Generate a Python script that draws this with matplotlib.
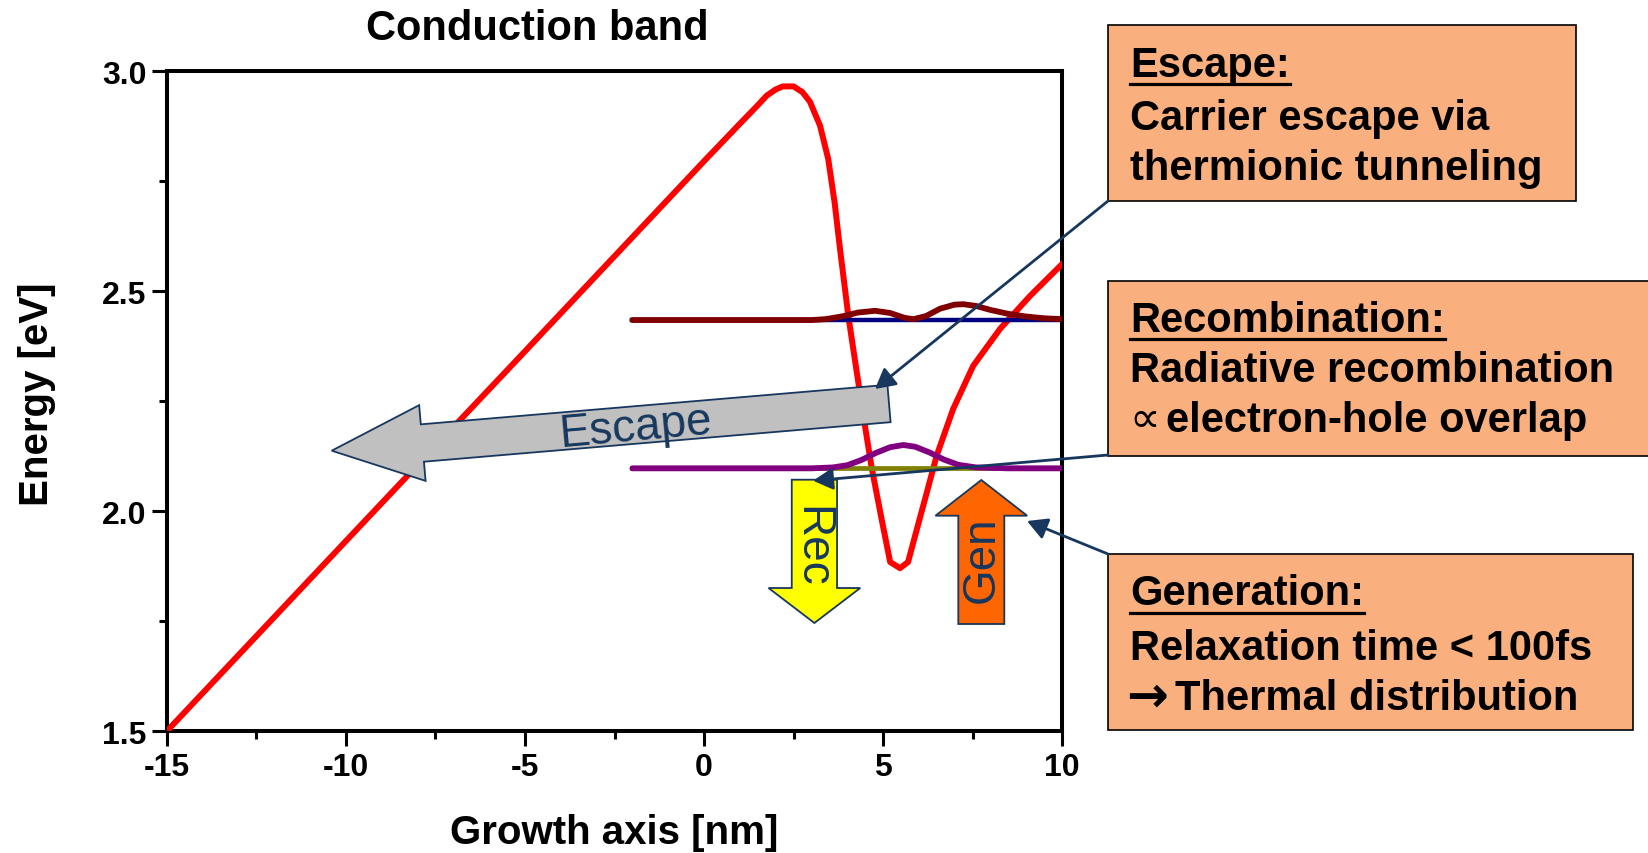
import matplotlib
matplotlib.use("Agg")
import matplotlib.pyplot as plt
from matplotlib.patches import FancyArrow, FancyArrowPatch, Rectangle
from matplotlib.lines import Line2D
from matplotlib.ticker import AutoMinorLocator

plt.rcParams["axes.unicode_minus"] = False

# Conduction band edge along the growth axis (nm, eV)
band_x = [-15.0, -10.0, -5.0, 0.0, 1.0, 1.5, 1.75, 2.0, 2.2, 2.5, 2.75, 2.96,
          3.24, 3.47, 3.65, 3.80, 4.03, 4.17, 4.45, 4.68, 4.96, 5.20, 5.475,
          5.70, 6.00, 6.25, 6.50, 6.96, 7.52, 8.27, 9.11, 10.0]
band_y = [1.500, 1.932, 2.363, 2.795, 2.880, 2.922, 2.944, 2.958, 2.965, 2.965,
          2.952, 2.930, 2.876, 2.800, 2.700, 2.595, 2.444, 2.368, 2.217, 2.100,
          1.982, 1.884, 1.870, 1.884, 1.975, 2.050, 2.126, 2.232, 2.330, 2.414,
          2.489, 2.561]

# Upper confined level and its probability density
upper_level = 2.434
upper_level_x = [-2.0, 10.0]
upper_wave_x = [-2.0, 3.0, 3.4, 3.9, 4.3, 4.78, 5.2, 5.6, 5.85, 6.2, 6.6, 7.0,
                7.24, 7.6, 8.0, 8.5, 9.0, 9.5, 10.0]
upper_wave_y = [2.434, 2.434, 2.436, 2.443, 2.451, 2.455, 2.450, 2.439, 2.436,
                2.443, 2.460, 2.469, 2.470, 2.466, 2.457, 2.448, 2.442, 2.438,
                2.436]

# Lower confined level and its probability density
lower_level = 2.097
lower_level_x = [-2.0, 10.0]
lower_wave_x = [-2.0, 3.0, 3.6, 4.0, 4.4, 4.8, 5.2, 5.57, 5.9, 6.3, 6.7, 7.1,
                7.6, 8.5, 10.0]
lower_wave_y = [2.097, 2.097, 2.099, 2.104, 2.116, 2.132, 2.145, 2.150, 2.146,
                2.133, 2.117, 2.105, 2.099, 2.097, 2.097]

x_ticks = [-15, -10, -5, 0, 5, 10]
y_ticks = [1.5, 2.0, 2.5, 3.0]

title_text = "Conduction band"
x_label = "Growth axis [nm]"
y_label = "Energy [eV]"

escape_heading = "Escape:"
escape_lines = ["Carrier escape via", "thermionic tunneling"]
recomb_heading = "Recombination:"
recomb_lines = ["Radiative recombination", "electron-hole overlap"]
gen_heading = "Generation:"
gen_lines = ["Relaxation time < 100fs", "Thermal distribution"]

BOLD = dict(family=["Liberation Sans", "DejaVu Sans"], weight="bold")
NAVY = "#17375E"
PEACH = "#F9B07E"

W, H, DPI = 1648, 854, 100
fig = plt.figure(figsize=(W / DPI, H / DPI), dpi=DPI)
inch = fig.dpi_scale_trans


def px(x, y):
    """Pixel position measured from the top-left corner -> inches."""
    return x / DPI, (H - y) / DPI


ax = fig.add_axes([167 / W, 1 - 732 / H, 895 / W, 660 / H])

ax.plot(band_x, band_y, color="#FF0000", lw=4.3, solid_joinstyle="round", zorder=3)
ax.plot(upper_level_x, [upper_level] * 2, color="#000080", lw=3.2, zorder=4)
ax.plot(upper_wave_x, upper_wave_y, color="#800000", lw=4.2,
        solid_capstyle="round", solid_joinstyle="round", zorder=5)
ax.plot(lower_level_x, [lower_level] * 2, color="#808000", lw=3.4, zorder=4)
ax.plot(lower_wave_x, lower_wave_y, color="#800080", lw=4.2,
        solid_capstyle="round", solid_joinstyle="round", zorder=5)

ax.set_xlim(-15, 10)
ax.set_ylim(1.5, 3.0)
ax.set_xticks(x_ticks)
ax.set_yticks(y_ticks)
ax.set_yticklabels([f"{v:.1f}" for v in y_ticks])
ax.xaxis.set_minor_locator(AutoMinorLocator(2))
ax.yaxis.set_minor_locator(AutoMinorLocator(2))
ax.tick_params(which="major", direction="out", length=10.8, width=2.2, pad=4,
               labelsize=23, top=False, right=False)
ax.tick_params(which="minor", direction="out", length=6, width=2.2,
               top=False, right=False)
for lab in ax.get_xticklabels() + ax.get_yticklabels():
    lab.set_fontfamily("Liberation Sans")
    lab.set_fontweight("bold")
for sp in ax.spines.values():
    sp.set_linewidth(2.9)

ax.set_xlabel(x_label, fontsize=29, **BOLD)
ax.set_ylabel(y_label, fontsize=29, **BOLD)
ax.xaxis.set_label_coords(0.5, (732 - 833) / 660)
ax.xaxis.label.set_va("center")
ax.yaxis.set_label_coords((37 - 167) / 895, (732 - 394) / 660)
ax.yaxis.label.set_va("center")

fig.text(*px(537, 40), title_text, transform=inch, ha="center", va="baseline",
         fontsize=30, **BOLD)

# Block arrows: escape (grey), recombination (yellow), generation (orange)
esc_tail = px(889, 404.5)
esc_tip = px(331.7, 451.7)
fig.add_artist(FancyArrow(esc_tail[0], esc_tail[1], esc_tip[0] - esc_tail[0],
                          esc_tip[1] - esc_tail[1], width=0.375, head_width=0.76,
                          head_length=0.91, length_includes_head=True,
                          transform=inch, facecolor="#C0C0C0", edgecolor=NAVY,
                          lw=1.3, zorder=2))
fig.text(*px(636, 428), "Escape", transform=inch, rotation=5.1,
         rotation_mode="anchor", ha="center", va="center", fontsize=33,
         family="Liberation Sans", color=NAVY, zorder=3)

rec_tail = px(814.4, 480.7)
rec_tip = px(815, 624)
fig.add_artist(FancyArrow(rec_tail[0], rec_tail[1], 0, rec_tip[1] - rec_tail[1],
                          width=0.453, head_width=0.917, head_length=0.35,
                          length_includes_head=True, transform=inch,
                          facecolor="#FFFF00", edgecolor=NAVY, lw=1.3, zorder=2))
fig.text(*px(811, 547), "Rec", transform=inch, rotation=-90,
         rotation_mode="anchor", ha="center", va="center", fontsize=33,
         family="Liberation Sans", color=NAVY, zorder=3)

gen_tail = px(981.3, 625)
gen_tip = px(981.3, 481)
fig.add_artist(FancyArrow(gen_tail[0], gen_tail[1], 0, gen_tip[1] - gen_tail[1],
                          width=0.46, head_width=0.917, head_length=0.357,
                          length_includes_head=True, transform=inch,
                          facecolor="#FF6600", edgecolor=NAVY, lw=1.3, zorder=2))
fig.text(*px(982, 560), "Gen", transform=inch, rotation=90,
         rotation_mode="anchor", ha="center", va="center", fontsize=33,
         family="Liberation Sans", color=NAVY, zorder=3)

# Explanation boxes
boxes = [(1108, 26, 468, 176), (1108, 282, 560, 175), (1108, 555, 525, 176)]
for bx, by, bw, bh in boxes:
    x0, y0 = px(bx, by + bh)
    fig.add_artist(Rectangle((x0, y0), bw / DPI, bh / DPI, transform=inch,
                             facecolor=PEACH, edgecolor="black", lw=1.2, zorder=2))

TX = 1130
headings = []
for text, base in [(escape_heading, 76.7), (recomb_heading, 331.7), (gen_heading, 605)]:
    headings.append((fig.text(*px(TX, base), text, transform=inch, ha="left",
                              va="baseline", fontsize=30, zorder=4, **BOLD), base))

for text, base in zip(escape_lines, [130, 180]):
    fig.text(*px(TX, base), text, transform=inch, ha="left", va="baseline",
             fontsize=30, zorder=4, **BOLD)
fig.text(*px(TX, 381.7), recomb_lines[0], transform=inch, ha="left",
         va="baseline", fontsize=30, zorder=4, **BOLD)
fig.text(*px(TX - 1, 431.7), "\u221d", transform=inch, ha="left", va="baseline",
         fontsize=31, family="DejaVu Sans", zorder=4)
fig.text(*px(1166, 431.7), recomb_lines[1], transform=inch, ha="left",
         va="baseline", fontsize=30, zorder=4, **BOLD)
fig.text(*px(TX, 660), gen_lines[0], transform=inch, ha="left",
         va="baseline", fontsize=30, zorder=4, **BOLD)
fig.text(*px(TX - 4, 712), "\u2192", transform=inch, ha="left", va="baseline",
         fontsize=36, family="DejaVu Sans", weight="bold", zorder=4)
fig.text(*px(1175, 710), gen_lines[1], transform=inch, ha="left",
         va="baseline", fontsize=30, zorder=4, **BOLD)

# Underline the headings
renderer = fig.canvas.get_renderer()
for t, base in headings:
    bb = t.get_window_extent(renderer)
    yy = (H - base - 8.5) / DPI
    fig.add_artist(Line2D([bb.x0 / DPI, bb.x1 / DPI], [yy, yy], transform=inch,
                          color="black", lw=2.3, zorder=4))

# Pointer arrows from the boxes into the diagram
pointers = [((1108, 202), (875, 390)), ((1108, 456), (813, 481.7)),
            ((1108, 555), (1027, 522))]
for start, end in pointers:
    fig.add_artist(FancyArrowPatch(px(*start), px(*end), transform=inch,
                                   arrowstyle="-|>,head_length=0.55,head_width=0.3",
                                   mutation_scale=22, color=NAVY, lw=2.0,
                                   shrinkA=0, shrinkB=0, zorder=6))

fig.savefig("out.png", dpi=DPI)
